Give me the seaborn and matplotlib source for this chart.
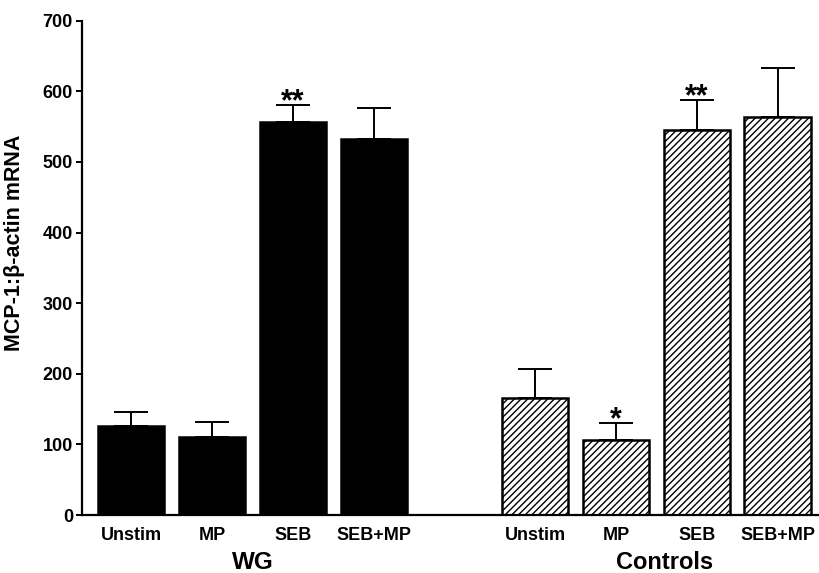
import matplotlib
matplotlib.use("Agg")
import matplotlib.pyplot as plt
import matplotlib.transforms as mtransforms
import pandas as pd
import seaborn as sns

# datos
estimulos = ["Unstim", "MP", "SEB", "SEB+MP"]
grupos = ["WG", "Controls"]
medias_wg = [126, 110, 557, 533]
errores_wg = [20, 21, 23, 44]
medias_control = [165, 106, 545, 563]
errores_control = [42, 24, 42, 70]
estrellas_wg = ["", "", "**", ""]
estrellas_control = ["", "*", "**", ""]
posiciones_wg = [0, 1, 2, 3]
posiciones_control = [5, 6, 7, 8]

df = pd.DataFrame({
    "pos": posiciones_wg + posiciones_control,
    "valor": medias_wg + medias_control,
    "error": errores_wg + errores_control,
    "grupo": ["WG"] * 4 + ["Controls"] * 4,
    "estimulo": estimulos + estimulos,
    "estrella": estrellas_wg + estrellas_control,
})

sns.set_style("ticks")
plt.rcParams["font.family"] = ["Liberation Sans", "DejaVu Sans"]
plt.rcParams["font.weight"] = "bold"
plt.rcParams["hatch.linewidth"] = 1.0
for clave in ["text.color", "axes.labelcolor", "xtick.color", "ytick.color", "axes.edgecolor"]:
    plt.rcParams[clave] = "black"

fig = plt.figure(figsize=(8.19, 5.73), dpi=100)
ax = fig.add_axes([82 / 819, 1 - 515 / 573, 736 / 819, (515 - 20.7) / 573])

sns.barplot(data=df, x="pos", y="valor", hue="grupo", native_scale=True,
            dodge=False, palette={"WG": "black", "Controls": "white"},
            saturation=1, width=0.82, errorbar=None, legend=False,
            edgecolor="black", linewidth=1.8, ax=ax)

# rayado para los controles
for barra in ax.patches:
    if barra.get_facecolor()[0] > 0.5:
        barra.set_hatch("/////")

# barras de error solo hacia arriba
ax.errorbar(df["pos"], df["valor"], yerr=[[0] * len(df), df["error"]],
            fmt="none", ecolor="black", elinewidth=1.4, capsize=12,
            capthick=1.4, zorder=0.5)

# asteriscos de significancia
for _, fila in df.iterrows():
    if fila["estrella"]:
        ax.text(fila["pos"], fila["valor"] + fila["error"] - 17, fila["estrella"],
                ha="center", va="bottom", fontsize=22, fontweight="bold")

ax.set_xlim(-0.61, 8.5)
ax.set_ylim(0, 700)
ax.set_yticks(range(0, 701, 100))
ax.set_xticks(df["pos"])
ax.set_xticklabels(df["estimulo"], fontsize=13, fontweight="bold")
ax.tick_params(axis="x", length=0, pad=9)
ax.tick_params(axis="y", length=4.5, width=1.4, labelsize=13, pad=2)
for t in ax.get_yticklabels():
    t.set_fontweight("bold")
ax.set_xlabel("")
ax.set_ylabel("MCP-1:β-actin mRNA", fontsize=15.5, fontweight="bold")
ax.yaxis.set_label_coords(-0.078, 0.55)

sns.despine(ax=ax)
for lado in ["left", "bottom"]:
    ax.spines[lado].set_linewidth(1.6)

# nombres de grupo
trans = mtransforms.blended_transform_factory(ax.transData, ax.transAxes)
ax.text(1.5, -0.097, "WG", transform=trans, ha="center", va="center",
        fontsize=17.5, fontweight="bold")
ax.text(6.6, -0.097, "Controls", transform=trans, ha="center", va="center",
        fontsize=17, fontweight="bold")

fig.savefig("out.png", dpi=100)
